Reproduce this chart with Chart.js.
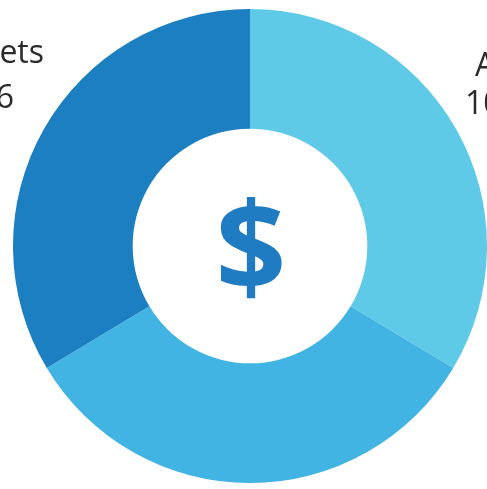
<!DOCTYPE html>
<html>
<head>
<meta charset="utf-8">
<script src="https://cdn.jsdelivr.net/npm/chart.js@4"></script>
<style>
  html, body { margin: 0; padding: 0; background: #ffffff; overflow: hidden; }
  #wrap { position: relative; width: 487px; height: 489px; }
</style>
</head>
<body>
<div id="wrap"><canvas id="c" width="487" height="489"></canvas></div>
<script>
const categories = ["Ages", "Growth", "Assets"];
const values = [33.6, 32.8, 33.6];
const sliceColors = ["#5fcae7", "#42b4e3", "#1b7fc2"];
const leftLabel = ["Assets", "36"];
const rightLabel = ["Ages", "10"];
const centerSymbol = "$";

const textPlugin = {
  id: 'texts',
  afterDraw(chart) {
    const ctx = chart.ctx;
    const meta = chart.getDatasetMeta(0);
    const arc = meta.data[0];
    const cx = arc.x, cy = arc.y;
    ctx.save();
    // center symbol
    ctx.fillStyle = "#1f7cc3";
    ctx.font = "bold 124px 'Open Sans', 'Noto Sans', sans-serif";
    ctx.textAlign = "center";
    ctx.textBaseline = "middle";
    ctx.fillText(centerSymbol, cx + 1, cy + 10);
    // side labels
    ctx.fillStyle = "#2b2b2b";
    ctx.font = "32px 'Open Sans', Lato, sans-serif";
    ctx.textBaseline = "alphabetic";
    ctx.textAlign = "right";
    ctx.fillText(leftLabel[0], 44, 63);
    ctx.fillText(leftLabel[1], 14, 108);
    ctx.textAlign = "left";
    ctx.fillText(rightLabel[0], 475, 76);
    ctx.fillText(rightLabel[1], 465, 114);
    ctx.restore();
  }
};

new Chart(document.getElementById('c'), {
  type: 'doughnut',
  data: {
    labels: categories,
    datasets: [{
      data: values,
      backgroundColor: sliceColors,
      borderWidth: 0,
      hoverOffset: 0
    }]
  },
  options: {
    responsive: false,
    animation: false,
    cutout: '49.5%',
    layout: { padding: { left: 13, right: 0, top: 8, bottom: 5 } },
    plugins: {
      legend: { display: false },
      tooltip: { enabled: false }
    }
  },
  plugins: [textPlugin]
});
</script>
</body>
</html>
